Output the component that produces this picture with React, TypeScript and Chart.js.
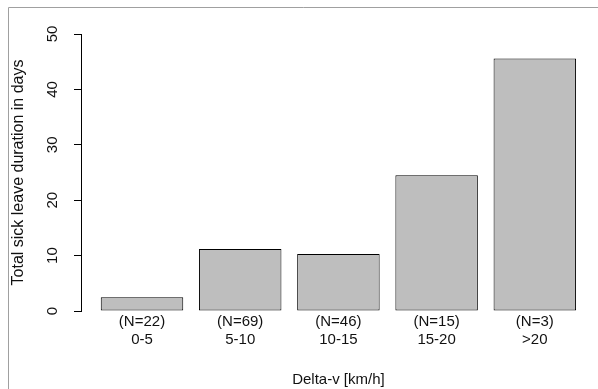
import React, { useEffect, useRef } from "react";
import { Chart, registerables } from "chart.js";

Chart.register(...registerables);

const groupCounts = ["(N=22)", "(N=69)", "(N=46)", "(N=15)", "(N=3)"];
const categories = ["0-5", "5-10", "10-15", "15-20", ">20"];
const sickLeaveDays = [2.5, 11.2, 10.3, 24.5, 45.6];
const yTicks = [0, 10, 20, 30, 40, 50];

const FONT = "Arial, 'Liberation Sans', sans-serif";
const TEXT = "#111";

const framePlugin = {
  id: "frame",
  afterDraw(chart: any) {
    const ctx = chart.ctx;
    ctx.save();
    ctx.strokeStyle = "#a0a0a0";
    ctx.lineWidth = 1;
    ctx.beginPath();
    ctx.moveTo(8.5, 389);
    ctx.lineTo(8.5, 7.5);
    ctx.lineTo(598, 7.5);
    ctx.stroke();
    ctx.restore();
  },
};

export default function App() {
  const ref = useRef<HTMLCanvasElement | null>(null);
  useEffect(() => {
    if (!ref.current) return;
    const positions = categories.map((_, i) => i + 1);
    const chart = new Chart(ref.current, {
      type: "bar",
      data: {
        datasets: [
          {
            data: positions.map((x, i) => ({ x, y: sickLeaveDays[i] })),
            backgroundColor: "#bebebe",
            borderColor: "#000",
            borderWidth: 1,
            borderSkipped: false,
            barPercentage: 0.84,
            categoryPercentage: 1,
          },
        ],
      },
      options: {
        animation: false,
        responsive: false,
        maintainAspectRatio: false,
        layout: { padding: { top: 34, right: 2.2, left: 0, bottom: 0 } },
        plugins: { legend: { display: false }, tooltip: { enabled: false } },
        scales: {
          x: {
            type: "linear",
            offset: false,
            min: 0.3788,
            max: 5.621,
            grid: { display: false, drawTicks: false },
            border: { display: false },
            afterBuildTicks: (scale: any) => {
              scale.ticks = positions.map((v) => ({ value: v }));
            },
            afterFit: (scale: any) => {
              scale.height = 78;
            },
            ticks: {
              autoSkip: false,
              maxRotation: 0,
              minRotation: 0,
              padding: 2,
              color: TEXT,
              font: { family: FONT, size: 15 },
              callback: (v: any) => {
                const i = Math.round(Number(v)) - 1;
                return [groupCounts[i], categories[i]];
              },
            },
            title: {
              display: true,
              text: "Delta-v [km/h]",
              color: TEXT,
              font: { family: FONT, size: 15 },
              padding: { top: 0, bottom: 0.5 },
            },
          },
          y: {
            type: "linear",
            min: 0,
            max: 50,
            afterBuildTicks: (scale: any) => {
              scale.ticks = yTicks.map((v) => ({ value: v }));
            },
            afterFit: (scale: any) => {
              scale.width = 81;
            },
            grid: {
              display: true,
              drawOnChartArea: false,
              drawTicks: true,
              tickLength: 7,
              color: "#000",
              lineWidth: 1,
            },
            border: { display: true, color: "#000", width: 1 },
            ticks: {
              minRotation: 90,
              maxRotation: 90,
              crossAlign: "center",
              padding: 12.7,
              color: TEXT,
              font: { family: FONT, size: 15 },
            },
            title: {
              display: true,
              text: "Total sick leave duration in days",
              color: TEXT,
              font: { family: FONT, size: 16 },
              padding: { top: 9.4, bottom: 0 },
            },
          },
        },
      } as any,
      plugins: [framePlugin],
    });
    return () => chart.destroy();
  }, []);
  return (
    <div style={{ position: "fixed", left: 0, top: 0, width: 598, height: 389, background: "#fff" }}>
      <canvas ref={ref} width={598} height={389} style={{ display: "block", width: 598, height: 389 }} />
    </div>
  );
}
